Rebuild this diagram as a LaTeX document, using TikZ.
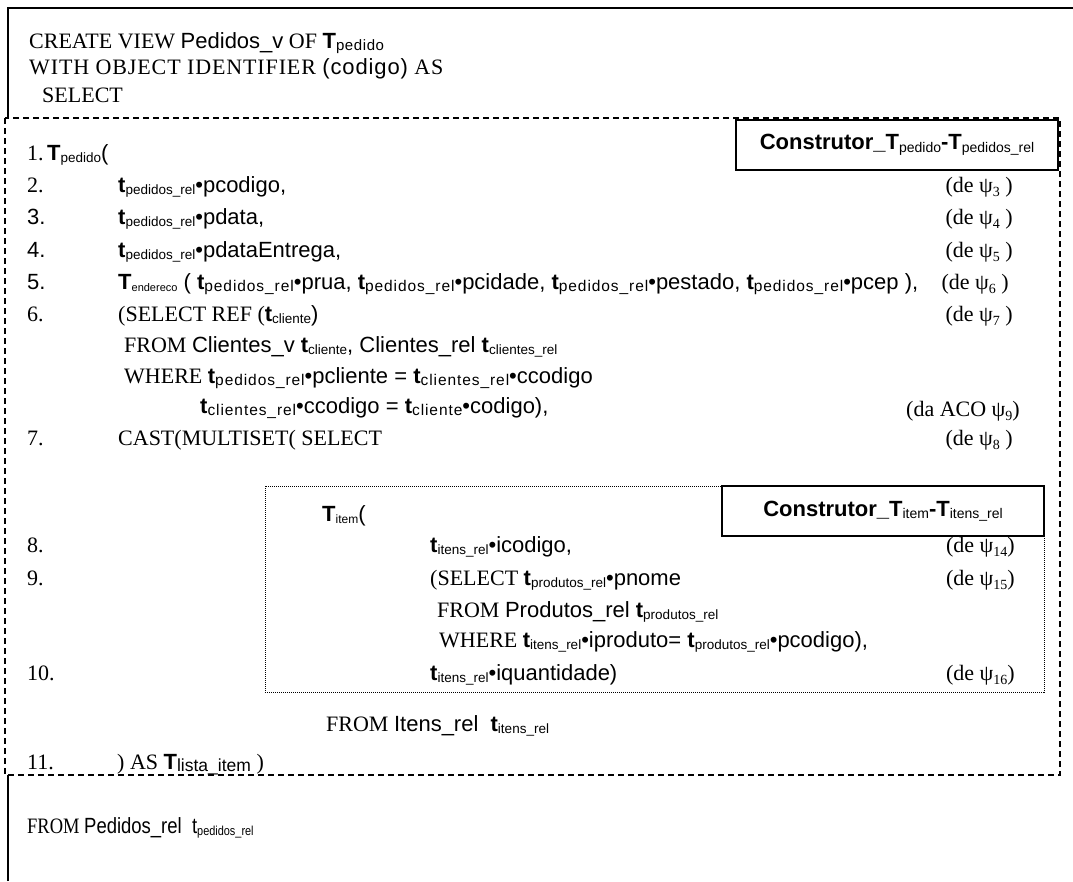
\documentclass[tikz,border=0pt]{standalone}
\usepackage{fontspec}
\setmainfont{Liberation Serif}
\newfontfamily\ar{Liberation Sans}
\newfontfamily\arls{Liberation Sans}[LetterSpace=6]
\newfontfamily\arhs{Liberation Sans}[LetterSpace=4]
\newfontfamily\tmhs{Liberation Serif}[LetterSpace=4]
\newfontfamily\arn{Liberation Sans}[FakeStretch=0.84]
\newfontfamily\tmn{Liberation Serif}[FakeStretch=0.84]
% family and size for index text (switched locally on the long lines)
\let\subfam\ar
\def\subsz{13.5}
% small lowered index text in the current family
\newcommand\subs[2]{\raisebox{-2.5pt}{\fontsize{#1}{#1}\selectfont #2}}
% bold tuple variable t with its relation as index
\newcommand\tv[1]{{\ar\bfseries t}{\subfam\subs{\subsz}{#1}}}
% bold type name T with index
\newcommand\TT[2]{{\ar\bfseries T}{\subfam\subs{#1}{#2}}}
\newcommand\bul{{\ar\textbullet}}
% wider index text for the long lines
\newcommand\widesubs{\let\subfam\arls\def\subsz{15.5}}
% mapping reference (de psi_n)
\newcommand\psn[1]{ψ\raisebox{-4pt}{\fontsize{14}{14}\selectfont #1}}
\begin{document}
\begin{tikzpicture}[x=1pt,y=-1pt,
  txt/.style={anchor=base west,inner sep=0pt,font=\fontsize{22}{26}\selectfont},
  refr/.style={anchor=base east,inner sep=0pt,font=\fontsize{22}{26}\selectfont},
  cbox/.style={draw,line width=1.2pt,fill=white,minimum width=322pt,minimum height=50pt,
    inner sep=0pt,font=\fontsize{22}{24}\selectfont\ar\bfseries}]
\useasboundingbox (0,0) rectangle (1073,881);
% outer frame
\draw[line width=1.3pt] (8,881) -- (8,8) -- (1073,8);

% header
\node[txt] (h1) at (29,48) {CREATE VIEW {\ar Pedidos\_v} OF {\let\subfam\arhs\TT{15}{pedido}}};
\node[txt] (h2) at (29,74) {\tmhs WITH OBJECT IDENTIFIER {\arhs (codigo)} AS};
\node[txt] (h3) at (42,102) {SELECT};

% constructor block
\draw[line width=1.3pt,dash pattern=on 6pt off 4pt,fill=white] (5,118) rectangle (1060,775);
\node[cbox] (c1) at (897,145) {Construtor\_T{\mdseries\subs{14}{pedido}}-T{\mdseries\subs{14}{pedidos\_rel}}};

% line numbers
\node[txt] (n1) at (27,160) {1.};
\node[txt] (n2) at (27,192) {2.};
\node[txt] (n3) at (27,224) {\ar 3.};
\node[txt] (n4) at (27,257) {\ar 4.};
\node[txt] (n5) at (27,289) {\ar 5.};
\node[txt] (n6) at (27,321) {6.};
\node[txt] (n7) at (27,445) {7.};
\node[txt] (n8) at (27,552) {8.};
\node[txt] (n9) at (27,585) {9.};
\node[txt] (n10) at (27,680) {10.};
\node[txt] (n11) at (27,769) {11.};

% select list
\node[txt] (l1) at (47,160) {\TT{13.5}{pedido}{\ar(}};
\node[txt] (l2) at (118,192) {\ar\tv{pedidos\_rel}\bul pcodigo,};
\node[txt] (l3) at (118,224) {\ar\tv{pedidos\_rel}\bul pdata,};
\node[txt] (l4) at (118,257) {\ar\tv{pedidos\_rel}\bul pdataEntrega,};
\node[txt] (l5) at (118,289) {\ar\TT{11}{endereco} {\widesubs( \tv{pedidos\_rel}\bul prua, \tv{pedidos\_rel}\bul pcidade, \tv{pedidos\_rel}\bul pestado, \tv{pedidos\_rel}\bul pcep ),}};
\node[txt] (l6) at (118,321) {(SELECT REF (\tv{cliente}{\ar)}};
\node[txt] (l6a) at (124,352) {FROM {\ar Clientes\_v \tv{cliente}, Clientes\_rel \tv{clientes\_rel}}};
\node[txt] (l6b) at (124,383) {WHERE {\ar\widesubs\tv{pedidos\_rel}\bul pcliente = \tv{clientes\_rel}\bul ccodigo}};
\node[txt] (l6c) at (200,413) {\ar\widesubs\tv{clientes\_rel}\bul ccodigo = \tv{cliente}\bul codigo),};
\node[txt] (l7) at (118,445) {CAST(MULTISET( SELECT};

% item sub-query
\draw[line width=0.9pt,dash pattern=on 1pt off 1pt] (265,486) rectangle (1044,692);
\node[cbox] (c2) at (883,511) {Construtor\_T{\mdseries\subs{14}{item}}-T{\mdseries\subs{14}{itens\_rel}}};
\node[txt] (i0) at (322,521) {\TT{12}{item}{\ar(}};
\node[txt] (i8) at (430,552) {\ar\tv{itens\_rel}\bul icodigo,};
\node[txt] (i9) at (430,585) {(SELECT {\ar\tv{produtos\_rel}\bul pnome}};
\node[txt] (i9a) at (437,617) {FROM {\ar Produtos\_rel \tv{produtos\_rel}}};
\node[txt] (i9b) at (439,647) {WHERE {\ar\tv{itens\_rel}\bul iproduto= \tv{produtos\_rel}\bul pcodigo),}};
\node[txt] (i10) at (430,680) {\ar\tv{itens\_rel}\bul iquantidade)};
\node[txt] (i11) at (326,731) {FROM {\ar Itens\_rel\ \ \tv{itens\_rel}}};
\node[txt] (l11) at (117,769) {) AS {\ar\bfseries T}{\ar\subs{17.5}{lista\_item}} )};

% mapping references
\node[refr] (p3) at (1013,192) {(de \psn{3} )};
\node[refr] (p4) at (1013,224) {(de \psn{4} )};
\node[refr] (p5) at (1013,257) {(de \psn{5} )};
\node[refr] (p6) at (1009,289) {(de \psn{6} )};
\node[refr] (p7) at (1013,321) {(de \psn{7} )};
\node[refr] (p9) at (1020,416) {(da ACO \psn{9})};
\node[refr] (p8) at (1013,445) {(de \psn{8} )};
\node[refr] (p14) at (1015,552) {(de \psn{14})};
\node[refr] (p15) at (1015,585) {(de \psn{15})};
\node[refr] (p16) at (1015,680) {(de \psn{16})};

% outer FROM clause
\node[txt] (f) at (27,833) {\tmn FROM {\arn Pedidos\_rel\ \ t\subs{13}{pedidos\_rel}}};
\end{tikzpicture}
\end{document}
